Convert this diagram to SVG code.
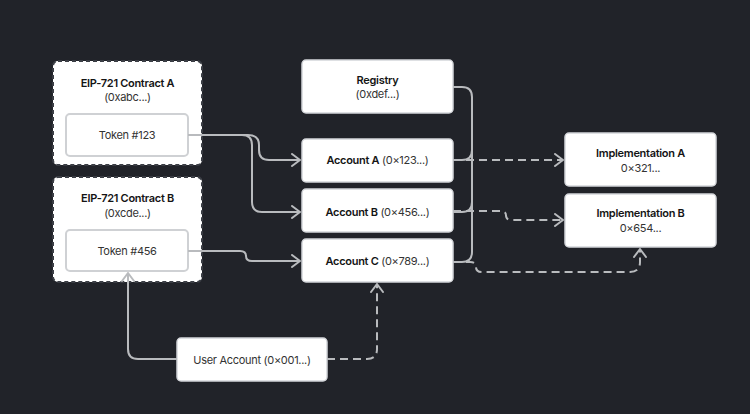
<svg xmlns="http://www.w3.org/2000/svg" width="750" height="414" viewBox="0 0 750 414">
<defs>
<style>
.bg{fill:#212329}
.box{fill:#ffffff;stroke:#d4d6da;stroke-width:1.5}
.outer{fill:#ffffff;stroke:#3b3e45;stroke-width:2;stroke-dasharray:4 3}
.inner{fill:#ffffff;stroke:#cfd1d4;stroke-width:2}
.t{font-family:Inter,"Noto Sans","Liberation Sans",sans-serif;font-size:11px;letter-spacing:-0.3px;fill:#2a2a2a;text-anchor:middle}
.b{font-weight:600;fill:#141414}
.s{fill:#333333}
.c{fill:none;stroke:#b9bbbe;stroke-width:2}
.d{stroke-dasharray:8 5}
</style>
<marker id="arr" markerUnits="userSpaceOnUse" viewBox="0 0 10 14" markerWidth="10" markerHeight="14" refX="9" refY="7" orient="auto">
<path d="M1,1 L9,7 L1,13" fill="none" stroke="#b9bbbe" stroke-width="2" stroke-linecap="round" stroke-linejoin="round"/>
</marker>
</defs>
<rect class="bg" x="0" y="0" width="750" height="414"/>

<g id="contract-a">
<rect class="outer" x="53" y="61" width="149" height="104" rx="5"/>
<text class="t b" x="127.5" y="86.5">EIP-721 Contract A</text>
<text class="t s" x="127.5" y="100.5">(0xabc...)</text>
</g>
<g id="token-123">
<rect class="inner" x="66" y="114" width="122" height="42" rx="4"/>
<text class="t s" x="127" y="139">Token #123</text>
</g>

<g id="contract-b">
<rect class="outer" x="53" y="177" width="149" height="105" rx="5"/>
<text class="t b" x="127.5" y="202">EIP-721 Contract B</text>
<text class="t s" x="127.5" y="217">(0xcde...)</text>
</g>
<g id="token-456">
<rect class="inner" x="66" y="230" width="122" height="41" rx="4"/>
<text class="t s" x="127" y="255">Token #456</text>
</g>

<g id="registry">
<rect class="box" x="302" y="60" width="151" height="53" rx="4"/>
<text class="t b" x="377.5" y="84">Registry</text>
<text class="t s" x="377.5" y="98">(0xdef...)</text>
</g>

<g id="account-a">
<rect class="box" x="302" y="139" width="151" height="43" rx="4"/>
<text class="t" x="377.5" y="164"><tspan class="b">Account A</tspan><tspan class="s"> (0×123...)</tspan></text>
</g>
<g id="account-b">
<rect class="box" x="302" y="189" width="151" height="43" rx="4"/>
<text class="t" x="377.5" y="215.5"><tspan class="b">Account B</tspan><tspan class="s"> (0×456...)</tspan></text>
</g>
<g id="account-c">
<rect class="box" x="302" y="239" width="151" height="43" rx="4"/>
<text class="t" x="377.5" y="265"><tspan class="b">Account C</tspan><tspan class="s"> (0×789...)</tspan></text>
</g>

<g id="implementation-a">
<rect class="box" x="565" y="133" width="151" height="53" rx="4"/>
<text class="t b" x="640.5" y="157">Implementation A</text>
<text class="t s" x="640.5" y="172">0×321...</text>
</g>
<g id="implementation-b">
<rect class="box" x="565" y="194" width="151" height="53" rx="4"/>
<text class="t b" x="640.5" y="217">Implementation B</text>
<text class="t s" x="640.5" y="232">0×654...</text>
</g>

<g id="user-account">
<rect class="box" x="177" y="338" width="150" height="43" rx="4"/>
<text class="t s" x="252" y="364">User Account (0×001...)</text>
</g>

<g id="connectors">
<path class="c" d="M453,87 H462 Q472,87 472,97 V150 Q472,160 462,160 H453"/>
<path class="c" d="M472,150 V202 Q472,212 462,212 H453"/>
<path class="c" d="M472,202 V252 Q472,262 462,262 H453"/>
<path class="c" d="M188,135 H248 Q259,135 259,145 V150 Q259,160 269,160 H300" marker-end="url(#arr)"/>
<path class="c" d="M188,135 H242 Q252,135 252,145 V202 Q252,212 262,212 H300" marker-end="url(#arr)"/>
<path class="c" d="M188,251 H240 Q246,251 246,256 Q246,261 252,261 H300" marker-end="url(#arr)"/>
<path class="c d" d="M453,160 H563" marker-end="url(#arr)"/>
<path class="c d" d="M453,211 H500 Q506,211 506,215.5 Q506,220 512,220 H563" marker-end="url(#arr)"/>
<path class="c d" d="M453,262 H470 Q476,262 476,267 Q476,272 482,272 H630 Q640,272 640,262 V249" marker-end="url(#arr)"/>
<path class="c" d="M177,359 H138 Q128,359 128,349 V273" marker-end="url(#arr)"/>
<path class="c d" d="M327,359 H367 Q377,359 377,349 V284" marker-end="url(#arr)"/>
</g>
</svg>
